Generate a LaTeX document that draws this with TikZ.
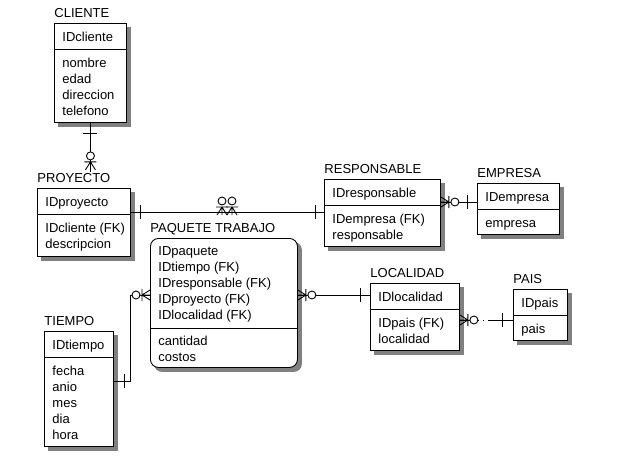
\documentclass[tikz,border=0pt]{standalone}
\usepackage{fontspec}
\setmainfont{Liberation Sans}
\usetikzlibrary{backgrounds}

\begin{document}
\begin{tikzpicture}[x=1pt, y=-1pt, line width=0.9pt, font=\fontsize{13}{16}\selectfont,
	ent/.style={draw, fill=white, anchor=north west, inner sep=0pt},
	sombra/.style={fill=black!50},
	lbl/.style={anchor=base west, inner sep=0pt},
	txt/.style={anchor=base west, inner sep=0pt, align=left},
	bar/.pic={\draw (0,-7)--(0,7);},
	zmany/.pic={\draw (0,0)--(8,-5) (0,0)--(8,0) (0,0)--(8,5) (0,-6)--(0,6);
		\draw[fill=white] (-6,0) circle[radius=4pt];}]
	\useasboundingbox (0,0) rectangle (632,464);
	% CLIENTE
	\node[ent, minimum width=72, minimum height=99] (cliente) at (54,23) {};
	\node[lbl] (cliente-lbl) at ([yshift=6pt]cliente.north west) {CLIENTE};
	\draw ([yshift=-26pt]cliente.north west) -- ([yshift=-26pt]cliente.north east);
	\node[txt] (cliente-pk) at ([xshift=8pt,yshift=-18pt]cliente.north west) {IDcliente};
	\node[txt] (cliente-at) at ([xshift=8pt,yshift=-92pt]cliente.north west) {nombre\\edad\\direccion\\telefono};
	% PROYECTO
	\node[ent, minimum width=93, minimum height=68] (proyecto) at (37,188) {};
	\node[lbl] (proyecto-lbl) at ([yshift=6pt]proyecto.north west) {PROYECTO};
	\draw ([yshift=-26pt]proyecto.north west) -- ([yshift=-26pt]proyecto.north east);
	\node[txt] (proyecto-pk) at ([xshift=8pt,yshift=-18pt]proyecto.north west) {IDproyecto};
	\node[txt] (proyecto-at) at ([xshift=8pt,yshift=-60pt]proyecto.north west) {IDcliente (FK)\\descripcion};
	% RESPONSABLE
	\node[ent, minimum width=116, minimum height=67] (responsable) at (324,179) {};
	\node[lbl] (responsable-lbl) at ([yshift=6pt]responsable.north west) {RESPONSABLE};
	\draw ([yshift=-26pt]responsable.north west) -- ([yshift=-26pt]responsable.north east);
	\node[txt] (responsable-pk) at ([xshift=8pt,yshift=-18pt]responsable.north west) {IDresponsable};
	\node[txt] (responsable-at) at ([xshift=8pt,yshift=-60pt]responsable.north west) {IDempresa (FK)\\responsable};
	% EMPRESA
	\node[ent, minimum width=82, minimum height=51] (empresa) at (477,183) {};
	\node[lbl] (empresa-lbl) at ([yshift=6pt]empresa.north west) {EMPRESA};
	\draw ([yshift=-26pt]empresa.north west) -- ([yshift=-26pt]empresa.north east);
	\node[txt] (empresa-pk) at ([xshift=8pt,yshift=-18pt]empresa.north west) {IDempresa};
	\node[txt] (empresa-at) at ([xshift=8pt,yshift=-44pt]empresa.north west) {empresa};
	% PAQUETE TRABAJO
	\node[ent, rounded corners=8pt, minimum width=147, minimum height=129] (paquete) at (150,238) {};
	\node[lbl] (paquete-lbl) at ([yshift=6pt]paquete.north west) {PAQUETE TRABAJO};
	\draw ([yshift=-90pt]paquete.north west) -- ([yshift=-90pt]paquete.north east);
	\node[txt] (paquete-pk) at ([xshift=8pt,yshift=-81pt]paquete.north west) {IDpaquete\\IDtiempo (FK)\\IDresponsable (FK)\\IDproyecto (FK)\\IDlocalidad (FK)};
	\node[txt] (paquete-at) at ([xshift=8pt,yshift=-123pt]paquete.north west) {cantidad\\costos};
	% TIEMPO
	\node[ent, minimum width=69, minimum height=115] (tiempo) at (44,331) {};
	\node[lbl] (tiempo-lbl) at ([yshift=6pt]tiempo.north west) {TIEMPO};
	\draw ([yshift=-26pt]tiempo.north west) -- ([yshift=-26pt]tiempo.north east);
	\node[txt] (tiempo-pk) at ([xshift=8pt,yshift=-18pt]tiempo.north west) {IDtiempo};
	\node[txt] (tiempo-at) at ([xshift=8pt,yshift=-108pt]tiempo.north west) {fecha\\anio\\mes\\dia\\hora};
	% LOCALIDAD
	\node[ent, minimum width=89, minimum height=67] (localidad) at (370,283) {};
	\node[lbl] (localidad-lbl) at ([yshift=6pt]localidad.north west) {LOCALIDAD};
	\draw ([yshift=-26pt]localidad.north west) -- ([yshift=-26pt]localidad.north east);
	\node[txt] (localidad-pk) at ([xshift=8pt,yshift=-18pt]localidad.north west) {IDlocalidad};
	\node[txt] (localidad-at) at ([xshift=8pt,yshift=-60pt]localidad.north west) {IDpais (FK)\\localidad};
	% PAIS
	\node[ent, minimum width=54, minimum height=51] (pais) at (513,289) {};
	\node[lbl] (pais-lbl) at ([yshift=6pt]pais.north west) {PAIS};
	\draw ([yshift=-26pt]pais.north west) -- ([yshift=-26pt]pais.north east);
	\node[txt] (pais-pk) at ([xshift=8pt,yshift=-18pt]pais.north west) {IDpais};
	\node[txt] (pais-at) at ([xshift=8pt,yshift=-44pt]pais.north west) {pais};
	% sombras
	\begin{scope}[on background layer]
		\foreach \e in {cliente,proyecto,responsable,empresa,tiempo,localidad,pais}
			\fill[sombra] ([shift={(4,4)}]\e.north west) rectangle ([shift={(4,4)}]\e.south east);
		\fill[sombra, rounded corners=8pt] ([shift={(4,4)}]paquete.north west) rectangle ([shift={(4,4)}]paquete.south east);
	\end{scope}
	% relaciones
	\draw (cliente.south) -- (cliente.south |- proyecto-lbl.north);
	\pic[rotate=90] at ([yshift=-11pt]cliente.south) {bar};
	\pic[rotate=-90] at ([yshift=-39pt]cliente.south) {zmany};
	\coordinate (pr-a) at (proyecto.east |- 0,212);
	\coordinate (pr-b) at (responsable.west |- 0,212);
	\draw (pr-a) -- (pr-b);
	\pic at ([xshift=10pt]pr-a) {bar};
	\pic at ([xshift=-9pt]pr-b) {bar};
	\pic[rotate=-90] at (222,207) {zmany};
	\pic[rotate=-90] at (232,207) {zmany};
	\coordinate (re-a) at (responsable.east |- 0,202);
	\coordinate (re-b) at (empresa.west |- 0,202);
	\draw (re-a) -- (re-b);
	\pic[rotate=180] at ([xshift=8pt]re-a) {zmany};
	\pic at ([xshift=-10pt]re-b) {bar};
	\coordinate (pl-a) at (paquete.east |- 0,295);
	\coordinate (pl-b) at (localidad.west |- 0,295);
	\draw (pl-a) -- (pl-b);
	\pic[rotate=180] at ([xshift=8pt]pl-a) {zmany};
	\pic at ([xshift=-10pt]pl-b) {bar};
	\coordinate (lp-a) at (localidad.east |- 0,320);
	\coordinate (lp-b) at (pais.west |- 0,320);
	\draw[dash pattern=on 19pt off 4pt on 1pt off 4pt on 40pt] (lp-a) -- (lp-b);
	\pic[rotate=180] at ([xshift=8pt]lp-a) {zmany};
	\pic at ([xshift=-11pt]lp-b) {bar};
	\coordinate (tp-a) at (tiempo.east |- 0,381);
	\coordinate (tp-b) at (paquete.west |- 0,295);
	\draw (tp-a) -| ([xshift=-20pt]tp-b) -- (tp-b);
	\pic at ([xshift=11pt]tp-a) {bar};
	\pic at ([xshift=-8pt]tp-b) {zmany};
\end{tikzpicture}
\end{document}
